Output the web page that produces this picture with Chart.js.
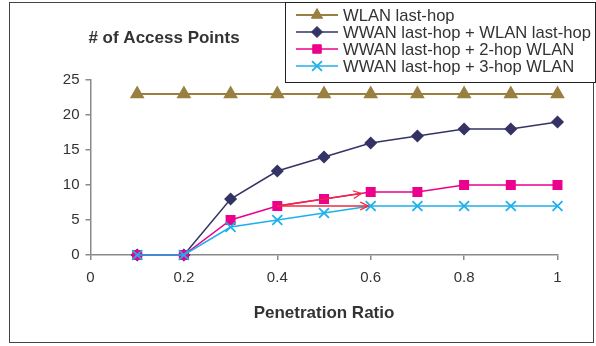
<!DOCTYPE html>
<html>
<head>
<meta charset="utf-8">
<script src="https://cdn.jsdelivr.net/npm/chart.js@4.4.1/dist/chart.umd.min.js"></script>
<style>
  body { margin: 0; background: #fff; }
  canvas { display: block; }
</style>
</head>
<body>
<canvas id="apChart" width="596" height="346"></canvas>
<script>
// data
const ratios = [0.1, 0.2, 0.3, 0.4, 0.5, 0.6, 0.7, 0.8, 0.9, 1];
const wlanOnly = [23, 23, 23, 23, 23, 23, 23, 23, 23, 23];
const wwanWlan = [0, 0, 8, 12, 14, 16, 17, 18, 18, 19];
const wwan2hop = [0, 0, 5, 7, 8, 9, 9, 10, 10, 10];
const wwan3hop = [0, 0, 4, 5, 6, 7, 7, 7, 7, 7];
const seriesLabels = [
  'WLAN last-hop',
  'WWAN last-hop + WLAN last-hop',
  'WWAN last-hop + 2-hop WLAN',
  'WWAN last-hop + 3-hop WLAN'
];
// the two red annotation arrows (start, end)
const arrowUp = [[0.4, 7], [0.58, 8.8]];
const arrowFlat = [[0.4, 7], [0.595, 7]];
const xTicks = [0, 0.2, 0.4, 0.6, 0.8, 1];
const yTicks = [0, 5, 10, 15, 20, 25];

const FONT = "'Liberation Sans', Arial, sans-serif";
const TEXT = '#333333';
const AXIS = '#8a8a8a';
const RED = '#f0283c';

const toXY = (vals) => vals.map((v, i) => ({ x: ratios[i], y: v }));
const pairXY = (pts) => pts.map(p => ({ x: p[0], y: p[1] }));

const frame = {
  id: 'frame',
  beforeDraw(chart) {
    const ctx = chart.ctx;
    ctx.save();
    ctx.fillStyle = '#fff';
    ctx.fillRect(0, 0, chart.width, chart.height);
    ctx.strokeStyle = '#444';
    ctx.lineWidth = 1;
    ctx.strokeRect(9.5, 2.5, 584, 340);
    ctx.fillStyle = TEXT;
    ctx.font = 'bold 17px ' + FONT;
    ctx.textAlign = 'center';
    ctx.textBaseline = 'middle';
    ctx.fillText('# of Access Points', 164, 38);
    ctx.restore();
  }
};

const arrowHeads = {
  id: 'arrowHeads',
  afterDatasetsDraw(chart) {
    const ctx = chart.ctx;
    ctx.save();
    ctx.strokeStyle = RED;
    ctx.lineWidth = 1.2;
    [4, 5].forEach(i => {
      const pts = chart.getDatasetMeta(i).data;
      const a = pts[0], b = pts[pts.length - 1];
      const ang = Math.atan2(b.y - a.y, b.x - a.x);
      const len = 9, spread = 0.45;
      ctx.beginPath();
      ctx.moveTo(b.x - len * Math.cos(ang - spread), b.y - len * Math.sin(ang - spread));
      ctx.lineTo(b.x, b.y);
      ctx.lineTo(b.x - len * Math.cos(ang + spread), b.y - len * Math.sin(ang + spread));
      ctx.stroke();
    });
    ctx.restore();
  }
};

const legendBox = {
  id: 'legendBox',
  afterDraw(chart) {
    const ctx = chart.ctx;
    ctx.save();
    ctx.fillStyle = '#fff';
    ctx.fillRect(285.5, 2.5, 310, 80);
    ctx.strokeStyle = '#222';
    ctx.lineWidth = 1;
    ctx.strokeRect(285.5, 2.5, 310, 80);
    ctx.font = '16.6px ' + FONT;
    ctx.textBaseline = 'middle';
    ctx.textAlign = 'left';
    const rows = [15, 32, 49, 66];
    for (let i = 0; i < 4; i++) {
      const ds = chart.data.datasets[i];
      const y = rows[i];
      ctx.strokeStyle = ds.borderColor;
      ctx.lineWidth = ds.borderWidth;
      ctx.beginPath();
      ctx.moveTo(296, y);
      ctx.lineTo(338, y);
      ctx.stroke();
      ctx.fillStyle = ds.pointBackgroundColor;
      ctx.strokeStyle = ds.pointBorderColor;
      ctx.lineWidth = ds.pointBorderWidth || 1;
      Chart.helpers.drawPoint(ctx, {
        pointStyle: ds.pointStyle,
        radius: ds.pointRadius,
        borderWidth: ds.pointBorderWidth || 1,
        rotation: 0
      }, 317, y);
      ctx.fillStyle = TEXT;
      ctx.fillText(ds.label, 343, y + 1);
    }
    ctx.restore();
  }
};

new Chart(document.getElementById('apChart'), {
  type: 'line',
  data: {
    datasets: [
      {
        label: seriesLabels[0], data: toXY(wlanOnly), order: 3, clip: false,
        borderColor: '#998040', backgroundColor: '#998040',
        pointBackgroundColor: '#998040', pointBorderColor: '#998040',
        borderWidth: 2, pointStyle: 'triangle', pointRadius: 6.5
      },
      {
        label: seriesLabels[1], data: toXY(wwanWlan), order: 2, clip: false,
        borderColor: '#333366', backgroundColor: '#333366',
        pointBackgroundColor: '#333366', pointBorderColor: '#333366',
        borderWidth: 1.5, pointStyle: 'rectRot', pointRadius: 5.5
      },
      {
        label: seriesLabels[2], data: toXY(wwan2hop), order: 1, clip: false,
        borderColor: '#ec008c', backgroundColor: '#ec008c',
        pointBackgroundColor: '#ec008c', pointBorderColor: '#ec008c',
        borderWidth: 1.5, pointStyle: 'rect', pointRadius: 6
      },
      {
        label: seriesLabels[3], data: toXY(wwan3hop), order: 0, clip: false,
        borderColor: '#1cb0ec', backgroundColor: '#1cb0ec',
        pointBackgroundColor: '#1cb0ec', pointBorderColor: '#1cb0ec',
        borderWidth: 1.5, pointStyle: 'crossRot', pointRadius: 7, pointBorderWidth: 1.8
      },
      {
        label: 'arrow1', data: pairXY(arrowUp), order: -1,
        borderColor: RED, borderWidth: 1.3, pointRadius: 0
      },
      {
        label: 'arrow2', data: pairXY(arrowFlat), order: -1,
        borderColor: RED, borderWidth: 1.3, pointRadius: 0
      }
    ]
  },
  options: {
    responsive: false,
    animation: false,
    layout: { padding: { left: 0, top: 80, right: 38.5, bottom: 0 } },
    plugins: {
      legend: { display: false },
      tooltip: { enabled: false }
    },
    elements: { line: { tension: 0, fill: false } },
    scales: {
      x: {
        type: 'linear', min: 0, max: 1,
        afterBuildTicks: (scale) => { scale.ticks = xTicks.map(v => ({ value: v })); },
        afterFit: (scale) => { scale.height = 91; },
        grid: { drawOnChartArea: false, tickLength: 5, color: AXIS, lineWidth: 1.5 },
        border: { color: AXIS, width: 1.5 },
        ticks: {
          color: TEXT, font: { family: FONT, size: 15 }, padding: 9,
          callback: (v) => String(v)
        },
        title: {
          display: true, text: 'Penetration Ratio', color: TEXT,
          font: { family: FONT, size: 17, weight: 'bold' },
          padding: { top: 0, bottom: 22 }
        }
      },
      y: {
        min: 0, max: 25,
        afterBuildTicks: (scale) => { scale.ticks = yTicks.map(v => ({ value: v })); },
        afterFit: (scale) => { scale.width = 90.5; },
        grid: { drawOnChartArea: false, tickLength: 5, color: AXIS, lineWidth: 1.5 },
        border: { color: AXIS, width: 1.5 },
        ticks: { color: TEXT, font: { family: FONT, size: 15 }, padding: 6 }
      }
    }
  },
  plugins: [frame, arrowHeads, legendBox]
});
</script>
</body>
</html>
